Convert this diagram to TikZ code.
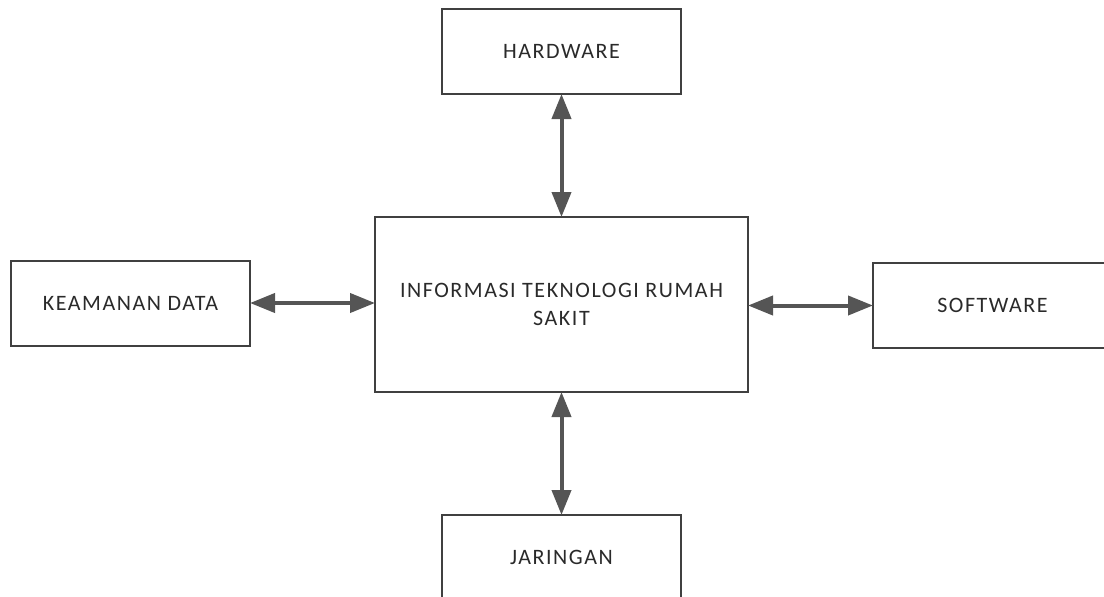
\documentclass[tikz,border=0pt]{standalone}
\usepackage{fontspec}
\setmainfont{Carlito}
\newfontfamily\boxfont[LetterSpace=7]{Carlito}
\usepackage{xcolor}
\usetikzlibrary{arrows.meta, positioning}

\definecolor{edgegray}{HTML}{404040}
\definecolor{arrowgray}{HTML}{555555}
\definecolor{textgray}{HTML}{2A2A2A}

\begin{document}
\begin{tikzpicture}[
    x=0.5pt, y=-0.5pt,
    font=\boxfont\fontsize{11pt}{14pt}\selectfont,
    %% component styles
    unit/.style={
        draw=edgegray, line width=1pt, text=textgray,
        minimum width=119.5pt, minimum height=42.5pt,
        inner sep=0pt, align=center
    },
    core/.style={
        draw=edgegray, line width=1pt, text=textgray,
        minimum width=186.5pt, minimum height=87.5pt,
        inner sep=0pt, align=center
    },
    %% arrow styles
    link/.style={{Triangle[length=12.5pt, width=9.5pt]}-{Triangle[length=12.5pt, width=9.5pt]},
        line width=2pt, draw=arrowgray, fill=arrowgray, shorten <=-0.5pt, shorten >=-0.5pt}
]

    \useasboundingbox (0,0) rectangle (1104,596);

    %% --- nodes ------------------------------------------------
    \node[core] (itrs) at (561.5,304.5) {INFORMASI TEKNOLOGI RUMAH\\SAKIT};
    \node[unit] (hw)   at (561.5,51.5)  {HARDWARE};
    \node[unit] (km)   at (130.5,303)   {KEAMANAN DATA};
    \node[unit] (sw)   at (992.5,305.5) {SOFTWARE};
    \node[unit] (jr)   at (561.5,557.5) {JARINGAN};

    %% --- arrows -----------------------------------------------
    \draw[link] (hw.south) -- (itrs.north);
    \draw[link] (itrs.south) -- (jr.north);
    \draw[link] (km.east) -- (itrs.west |- km.east);
    \draw[link] (itrs.east |- sw.west) -- (sw.west);

\end{tikzpicture}
\end{document}
